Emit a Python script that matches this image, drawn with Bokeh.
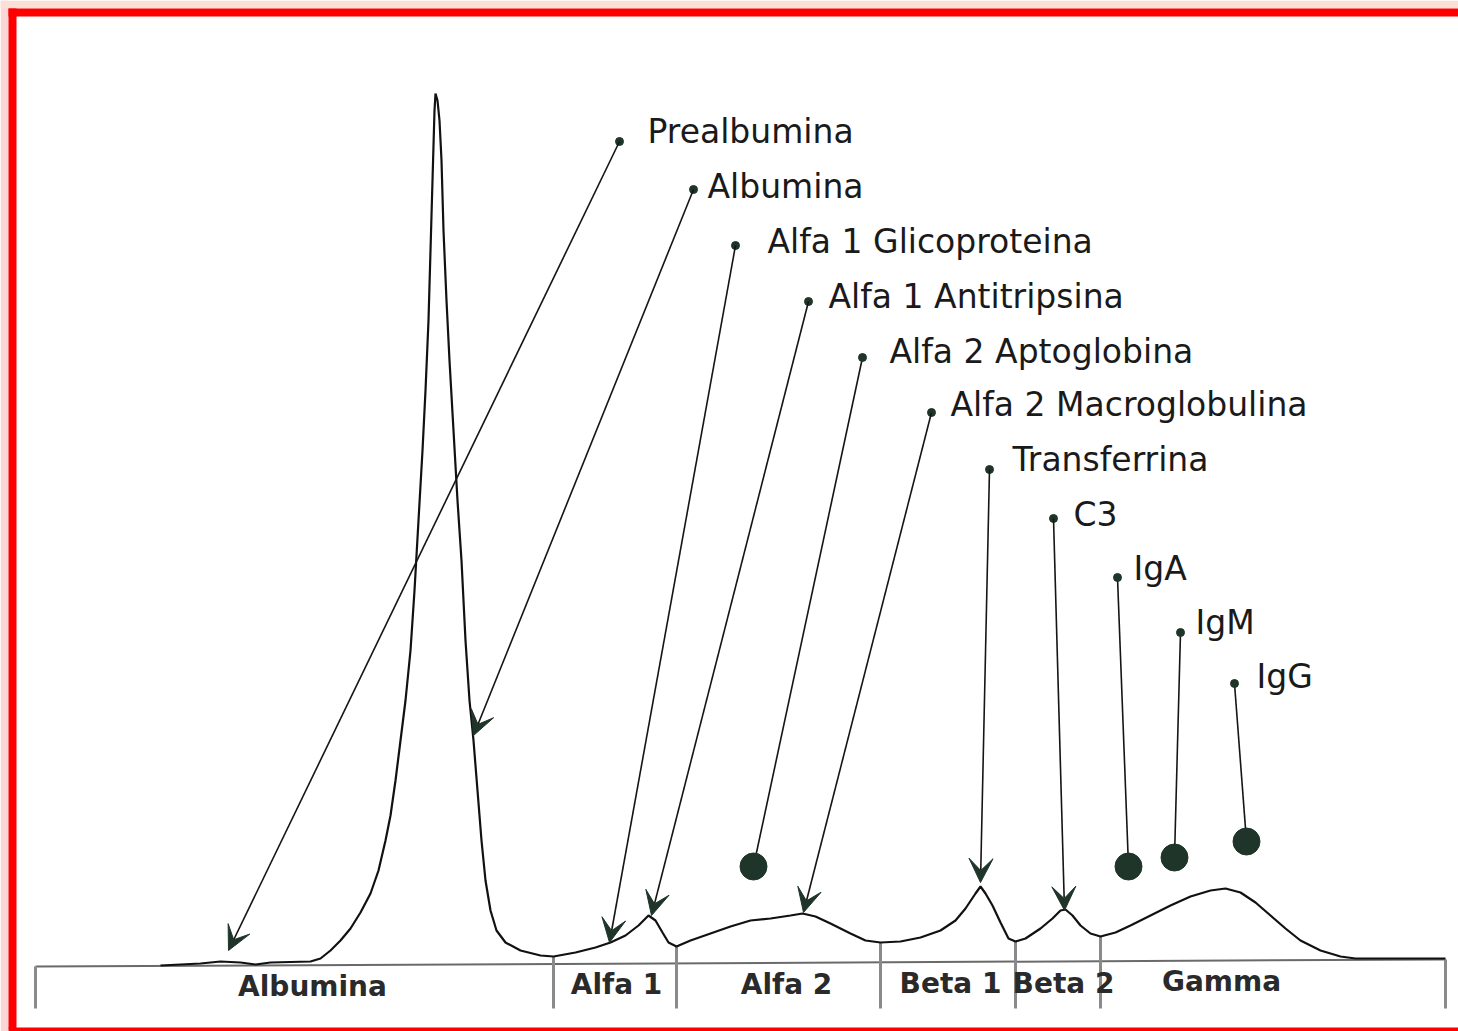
import numpy as np
from bokeh.plotting import figure
from bokeh.models import Range1d, Arrow, VeeHead, ColumnDataSource, BoxAnnotation
from bokeh.core.properties import value
from bokeh.embed import file_html
from bokeh.resources import INLINE

# ---------------- data ----------------
# densitometric trace: position (mobility) and signal height above baseline
pos = [160, 200, 220, 240, 255, 270, 310, 320, 330, 340, 350, 360, 370, 378, 385, 390, 395,
       400, 405, 410, 414, 418, 422, 425, 428, 430, 432, 434, 435, 437, 439, 441, 443, 446,
       449, 453, 457, 461, 465, 469, 473, 477, 481, 485, 490, 496, 505, 520, 540, 553, 575,
       595, 610, 625, 638, 648, 655, 662, 668, 676, 690, 710, 730, 750, 770, 790, 802, 815,
       830, 850, 865, 880, 900, 920, 940, 955, 965, 975, 980, 985, 992, 1000, 1008, 1015,
       1025, 1040, 1052, 1060, 1065, 1072, 1080, 1090, 1100, 1115, 1130, 1150, 1170, 1190,
       1210, 1225, 1240, 1255, 1270, 1285, 1300, 1320, 1340, 1355, 1445]
signal = [1, 3, 5, 4, 2, 4, 5, 8, 16, 26, 38, 54, 73, 96, 126, 151, 186,
          226, 266, 316, 376, 446, 516, 576, 646, 716, 786, 856, 873, 866, 846, 806, 736, 666,
          606, 536, 466, 406, 326, 266, 226, 176, 126, 86, 56, 36, 24, 16, 11, 10, 14,
          19, 24, 31, 41, 51, 46, 34, 24, 20, 26, 33, 40, 46, 48, 51, 53, 50,
          43, 33, 26, 24, 25, 29, 36, 46, 58, 73, 80, 73, 61, 44, 28, 25,
          28, 38, 48, 56, 57, 51, 41, 33, 30, 34, 41, 51, 61, 70,
          76, 78, 74, 64, 51, 38, 26, 16, 10, 8, 8]

# protein labels
proteins = ["Prealbumina", "Albumina", "Alfa 1 Glicoproteina", "Alfa 1 Antitripsina",
            "Alfa 2 Aptoglobina", "Alfa 2 Macroglobulina", "Transferrina", "C3",
            "IgA", "IgM", "IgG"]
marker_kind = ["arrow", "arrow", "arrow", "arrow", "ball", "arrow", "arrow", "arrow",
               "ball", "ball", "ball"]
dot_x = [619, 693, 735, 808, 862, 931, 989, 1053, 1117, 1180, 1234]
dot_y = [825, 777, 721, 665, 609, 554, 497, 448, 389, 334, 283]
label_x = [647, 707, 767, 828, 889, 950, 1012, 1073, 1133, 1195, 1256]
label_y = [835, 780, 725, 670, 615, 562, 507, 452, 398, 344, 290]
target_x = [228, 473, 609, 651, 753, 803, 980, 1064, 1128, 1174, 1246]
target_y = [16, 231, 24, 51, 100, 54, 84, 56, 100, 109, 125]

# fractions
fractions = ["Albumina", "Alfa 1", "Alfa 2", "Beta 1", "Beta 2", "Gamma"]
fraction_bounds = [35, 553, 676, 880, 1015, 1100, 1445]
fraction_label_x = [312, 616, 786, 950, 1063, 1221]
fraction_label_y = [-20, -18, -18, -17, -17, -15]

# ---------------- figure ----------------
W, H = 1458, 1031
BASE = 966
p = figure(width=W, height=H, x_range=Range1d(0, W),
           y_range=Range1d(BASE - H, BASE),
           output_backend="svg", toolbar_location=None, min_border=0)
p.axis.visible = False
p.grid.visible = False
p.outline_line_color = None
p.background_fill_color = "white"
p.border_fill_color = "white"

# scanned page margin (pale) and red frame
p.add_layout(BoxAnnotation(left=0, right=8, bottom=BASE - H, top=BASE,
                           fill_color="#fbd6d6", fill_alpha=1, line_color=None))
p.add_layout(BoxAnnotation(left=0, right=W, bottom=BASE - 8, top=BASE,
                           fill_color="#fbe0d6", fill_alpha=1, line_color=None))
p.add_layout(BoxAnnotation(left=8, right=16, bottom=BASE - 1028, top=BASE - 8,
                           fill_color="#ff0000", fill_alpha=1, line_color=None))
p.add_layout(BoxAnnotation(left=8, right=W, bottom=BASE - 16, top=BASE - 8,
                           fill_color="#ff0000", fill_alpha=1, line_color=None))
p.add_layout(BoxAnnotation(left=8, right=W, bottom=BASE - H, top=BASE - 1027,
                           fill_color="#ff0000", fill_alpha=1, line_color=None))

# baseline
p.line([fraction_bounds[0], fraction_bounds[-1]], [0, 7], line_color="#6a6a6a", line_width=2)

# fraction separators
sep_top = []
for i, b in enumerate(fraction_bounds):
    if i == 0 or i == len(fraction_bounds) - 1:
        sep_top.append(0 + 7 * (b - fraction_bounds[0]) / (fraction_bounds[-1] - fraction_bounds[0]))
    else:
        sep_top.append(float(np.interp(b, pos, signal)))
p.segment(x0=fraction_bounds, y0=sep_top, x1=fraction_bounds, y1=[-42] * len(fraction_bounds),
          line_color="#8a8a8a", line_width=3)

# trace
p.line(pos, signal, line_color="#111111", line_width=2.2)

# fraction labels
p.text(x=fraction_label_x, y=fraction_label_y, text=fractions, text_align="center",
       text_baseline="middle", text_font=value("DejaVu Sans"), text_font_style="bold",
       text_font_size="28px", text_color="#2a2a2a")

# leaders
DARK = "#1f3529"
arr = [i for i, k in enumerate(marker_kind) if k == "arrow"]
ball = [i for i, k in enumerate(marker_kind) if k == "ball"]
src = ColumnDataSource(dict(xs=[dot_x[i] for i in arr], ys=[dot_y[i] for i in arr],
                            xe=[target_x[i] for i in arr], ye=[target_y[i] for i in arr]))
p.add_layout(Arrow(source=src, x_start="xs", y_start="ys", x_end="xe", y_end="ye",
                   line_color="#151515", line_width=1.6,
                   end=VeeHead(size=24, fill_color=DARK, line_color=DARK, line_width=1)))
p.segment(x0=[dot_x[i] for i in ball], y0=[dot_y[i] for i in ball],
          x1=[target_x[i] for i in ball], y1=[target_y[i] for i in ball],
          line_color="#151515", line_width=1.6)
p.scatter([target_x[i] for i in ball], [target_y[i] for i in ball], size=27,
          fill_color=DARK, line_color=DARK)
p.scatter(dot_x, dot_y, size=8, fill_color=DARK, line_color=DARK)

# protein labels
p.text(x=label_x, y=label_y, text=proteins, text_align="left", text_baseline="middle",
       text_font=value("DejaVu Sans"), text_font_size="33px", text_color="#1a1a1a")

open("out.html", "w").write(file_html(p, INLINE))
